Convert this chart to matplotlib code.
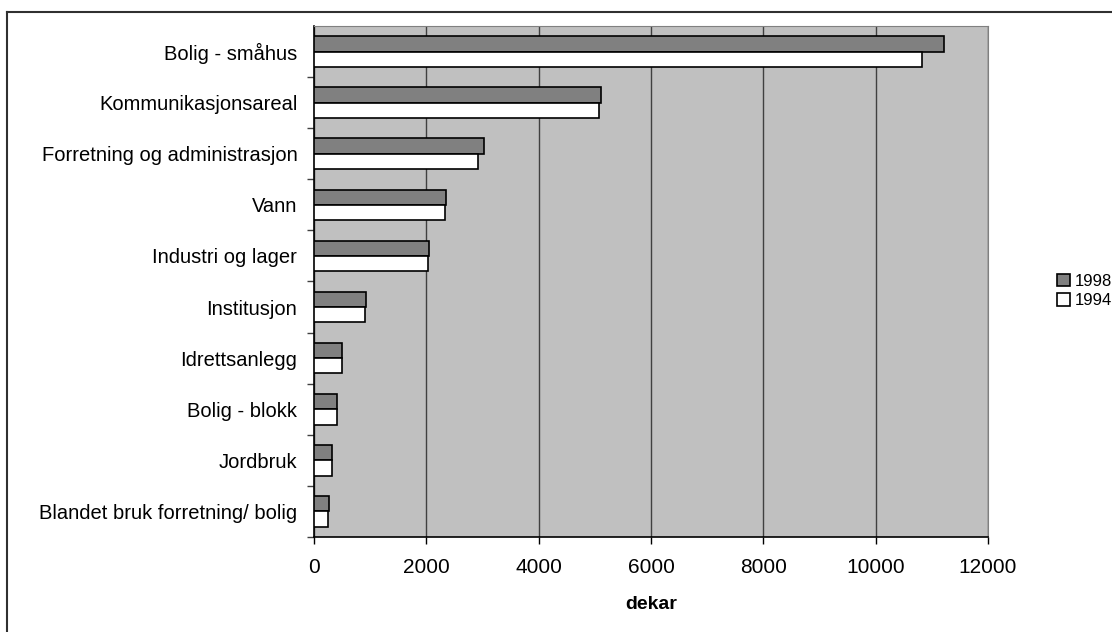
import numpy as np
import matplotlib.pyplot as plt
from matplotlib.lines import Line2D

plt.rcParams['font.family'] = ['Liberation Sans', 'DejaVu Sans']

# Arealbruk (dekar), ovenfra og ned
kategorier = ['Bolig - småhus', 'Kommunikasjonsareal', 'Forretning og administrasjon',
              'Vann', 'Industri og lager', 'Institusjon', 'Idrettsanlegg',
              'Bolig - blokk', 'Jordbruk', 'Blandet bruk forretning/ bolig']
areal_1998 = [11210, 5108, 3020, 2343, 2046, 931, 492, 415, 320, 273]
areal_1994 = [10820, 5076, 2924, 2340, 2023, 902, 492, 412, 318, 243]
xticks = [0, 2000, 4000, 6000, 8000, 10000, 12000]

fig = plt.figure(figsize=(11.12, 6.32), dpi=100)
ax = fig.add_axes([0.2824, 0.1503, 0.6061, 0.8086])

n = len(kategorier)
y = np.arange(n)[::-1]  # first category at the top
h = 0.3
ax.barh(y + h / 2, areal_1998, height=h, color='#808080', edgecolor='black',
        linewidth=1.2, label='1998', zorder=3)
ax.barh(y - h / 2, areal_1994, height=h, color='white', edgecolor='black',
        linewidth=1.2, label='1994', zorder=3)

ax.set_facecolor('#c0c0c0')
ax.set_xlim(0, 12000)
ax.set_ylim(-0.5, n - 0.5)
ax.set_xticks(xticks)
ax.set_xticklabels([str(v) for v in xticks], fontsize=15)
ax.tick_params(axis='x', length=5, width=1, direction='out', pad=10)
ax.grid(axis='x', color='#404040', linewidth=1, zorder=1)

# category labels between boundary ticks
ax.set_yticks(np.arange(n) - 0.5, minor=False)
ax.set_yticklabels([])
ax.tick_params(axis='y', length=5, width=1, direction='out', color='#404040')
ax.set_yticks(y, minor=True)
ax.set_yticklabels(kategorier, minor=True, fontsize=14.5)
ax.tick_params(axis='y', which='minor', length=0, pad=12)

ax.set_xlabel('dekar', fontsize=14, fontweight='bold', labelpad=14)

for side in ['top', 'right']:
    ax.spines[side].set_color('#808080')
for side in ['left', 'bottom']:
    ax.spines[side].set_color('black')
    ax.spines[side].set_linewidth(1.2)

# legend to the right
ax.legend(loc='center left', bbox_to_anchor=(1.09, 0.481), frameon=False,
          fontsize=12, handlelength=0.75, handleheight=0.75, handletextpad=0.3,
          labelspacing=0.25, borderpad=0)

# outer frame of the chart
fig.add_artist(Line2D([7 / 1112, 7 / 1112], [0, 1 - 12 / 632], color='#303030',
                      linewidth=1.5, transform=fig.transFigure))
fig.add_artist(Line2D([7 / 1112, 1], [1 - 12 / 632, 1 - 12 / 632], color='#303030',
                      linewidth=1.5, transform=fig.transFigure))

fig.savefig('out.png', dpi=100)
